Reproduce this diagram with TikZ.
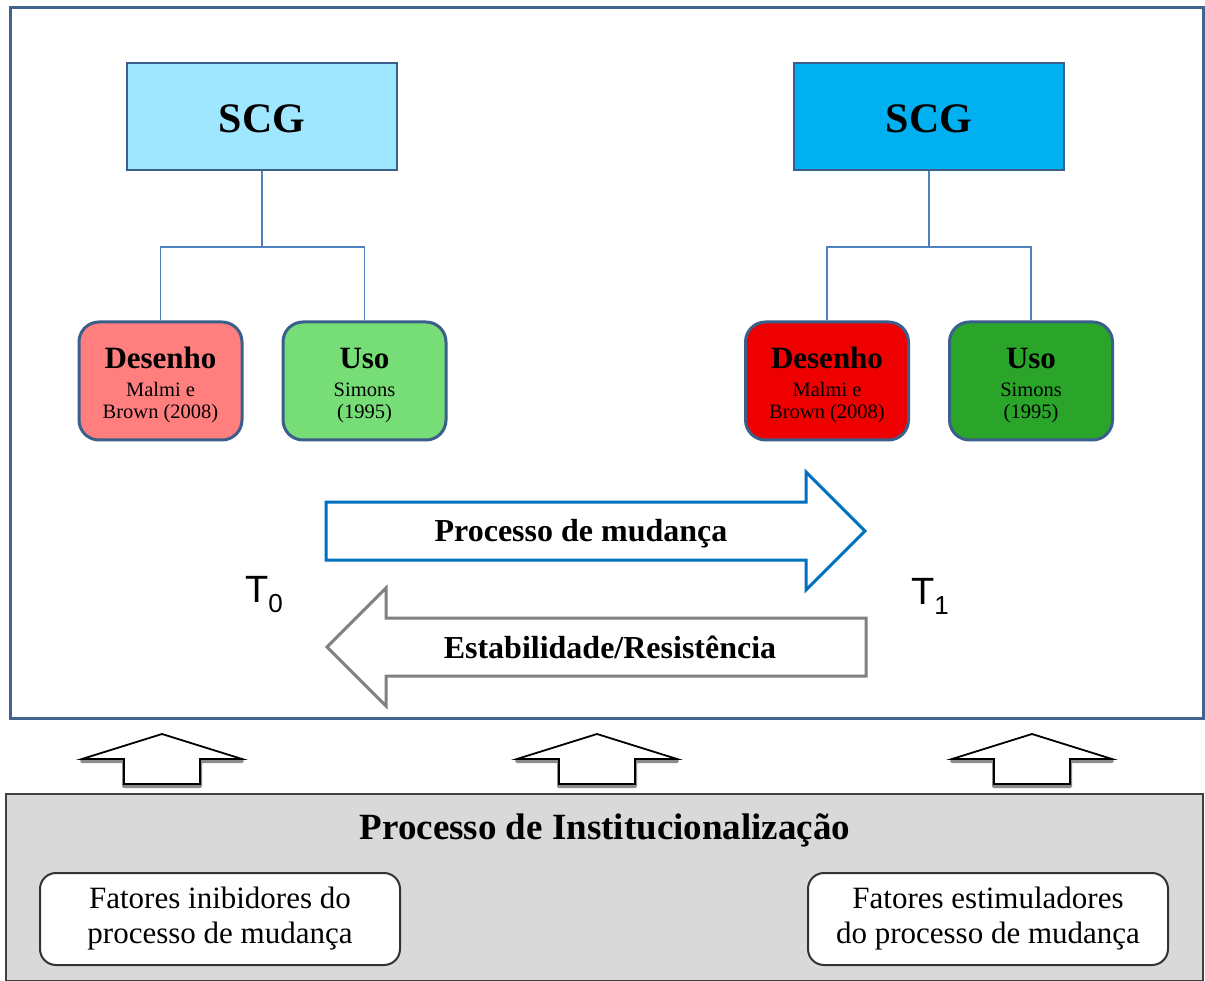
\documentclass[tikz,border=0pt]{standalone}
\usepackage{fontspec}
\setmainfont{Liberation Serif}
\newfontfamily\arialfont{Liberation Sans}
\definecolor{frameblue}{HTML}{41638D}
\definecolor{boxline}{HTML}{3A5F8B}
\definecolor{connblue}{HTML}{4F81BD}
\definecolor{scgA}{HTML}{9FE6FF}
\definecolor{scgB}{HTML}{00B0F0}
\definecolor{desA}{HTML}{FF7F7F}
\definecolor{usoA}{HTML}{77DD77}
\definecolor{desB}{HTML}{EE0000}
\definecolor{usoB}{HTML}{2AA52A}
\definecolor{procblue}{HTML}{0070C0}
\definecolor{stabgray}{HTML}{808080}
\definecolor{boxgray}{HTML}{D9D9D9}
\begin{document}
\begin{tikzpicture}[x=1pt,y=-1pt,
  frame/.style={draw=frameblue, line width=3pt},
  scgbox/.style={draw=boxline, line width=2.8pt, minimum width=270pt, minimum height=107pt, inner sep=0pt, font=\bfseries\fontsize{42}{46}\selectfont},
  subbox/.style={draw=boxline, line width=3pt, rounded corners=20pt, minimum width=163pt, minimum height=118pt, inner sep=0pt, align=center, font=\fontsize{20.5}{22}\selectfont},
  conn/.style={draw=connblue, line width=1.5pt},
  parrow/.style={draw=procblue, line width=3pt, fill=white, line join=miter},
  sarrow/.style={draw=stabgray, line width=3pt, fill=white, line join=miter},
  arrowtext/.style={anchor=base, inner sep=0pt, font=\bfseries\fontsize{32}{34}\selectfont},
  tlabel/.style={anchor=base west, inner sep=0pt, font=\arialfont\fontsize{38}{40}\selectfont},
  upshadow/.style={draw=black!45, line width=4pt, line join=round},
  uparrow/.style={draw=black, line width=1.8pt, fill=white, line join=miter},
  factbox/.style={draw=black!80, line width=2pt, fill=white, rounded corners=16pt, minimum width=360pt, minimum height=92pt, inner sep=0pt, align=center, font=\fontsize{31}{35}\selectfont}
]
\useasboundingbox (0,0) rectangle (1205,981);
\fill[white] (0,0) rectangle (1205,981);
% main frame
\draw[frame] (10,8) rectangle (1203,718);

% SCG boxes
\node[scgbox, fill=scgA] (scg0) at (262,116.5) {\rule{0pt}{33pt}SCG};
\node[scgbox, fill=scgB] (scg1) at (929,116.5) {\rule{0pt}{33pt}SCG};

% sub boxes
\node[subbox, fill=desA] (des0) at (160.5,381) {\rule{0pt}{29pt}{\bfseries\fontsize{31}{31}\selectfont Desenho}\\[6pt]Malmi e\\Brown (2008)};
\node[subbox, fill=usoA] (uso0) at (364.5,381) {\rule{0pt}{29pt}{\bfseries\fontsize{31}{31}\selectfont Uso}\\[6pt]Simons\\(1995)};
\node[subbox, fill=desB] (des1) at (827,381) {\rule{0pt}{29pt}{\bfseries\fontsize{31}{31}\selectfont Desenho}\\[6pt]Malmi e\\Brown (2008)};
\node[subbox, fill=usoB] (uso1) at (1031,381) {\rule{0pt}{29pt}{\bfseries\fontsize{31}{31}\selectfont Uso}\\[6pt]Simons\\(1995)};

% connectors
\coordinate (j0) at (262,247);
\coordinate (j1) at (929,247);
\draw[conn] (scg0.south) -- (j0) -| (des0.north);
\draw[conn] (j0) -| (uso0.north);
\draw[conn] (scg1.south) -- (j1) -| (des1.north);
\draw[conn] (j1) -| (uso1.north);

% process arrows
\draw[parrow] (326,502) -- (806,502) -- (806,472) -- (865,531) -- (806,590) -- (806,560) -- (326,560) -- cycle;
\node[arrowtext] (pm) at (581,541) {Processo de mudança};
\draw[sarrow] (866,618) -- (386,618) -- (386,588) -- (327,647) -- (386,706) -- (386,676) -- (866,676) -- cycle;
\node[arrowtext] (er) at (610,658) {Estabilidade/Resistência};

% time labels
\node[tlabel] (t0) at (245,602) {T\raisebox{-10pt}{\fontsize{26}{28}\selectfont 0}};
\node[tlabel] (t1) at (911,604) {T\raisebox{-10pt}{\fontsize{26}{28}\selectfont 1}};

% up arrows
\foreach \cx in {162,597,1032} {
  \draw[upshadow] (\cx,736) -- (\cx+80,761) -- (\cx+38,761) -- (\cx+38,786) -- (\cx-38,786) -- (\cx-38,761) -- (\cx-80,761) -- cycle;
  \draw[uparrow] (\cx,734) -- (\cx+80,759) -- (\cx+38,759) -- (\cx+38,784) -- (\cx-38,784) -- (\cx-38,759) -- (\cx-80,759) -- cycle;
}

% institutionalization box
\draw[fill=boxgray, draw=black!75, line width=2pt] (6,794) rectangle (1203,981);
\node[anchor=base, inner sep=0pt, font=\bfseries\fontsize{37}{40}\selectfont] (inst) at (605,839) {Processo de Institucionalização};
\node[factbox] (inib) at (220,919) {Fatores inibidores do\\processo de mudança};
\node[factbox] (estim) at (988,919) {Fatores estimuladores\\do processo de mudança};
\end{tikzpicture}
\end{document}
